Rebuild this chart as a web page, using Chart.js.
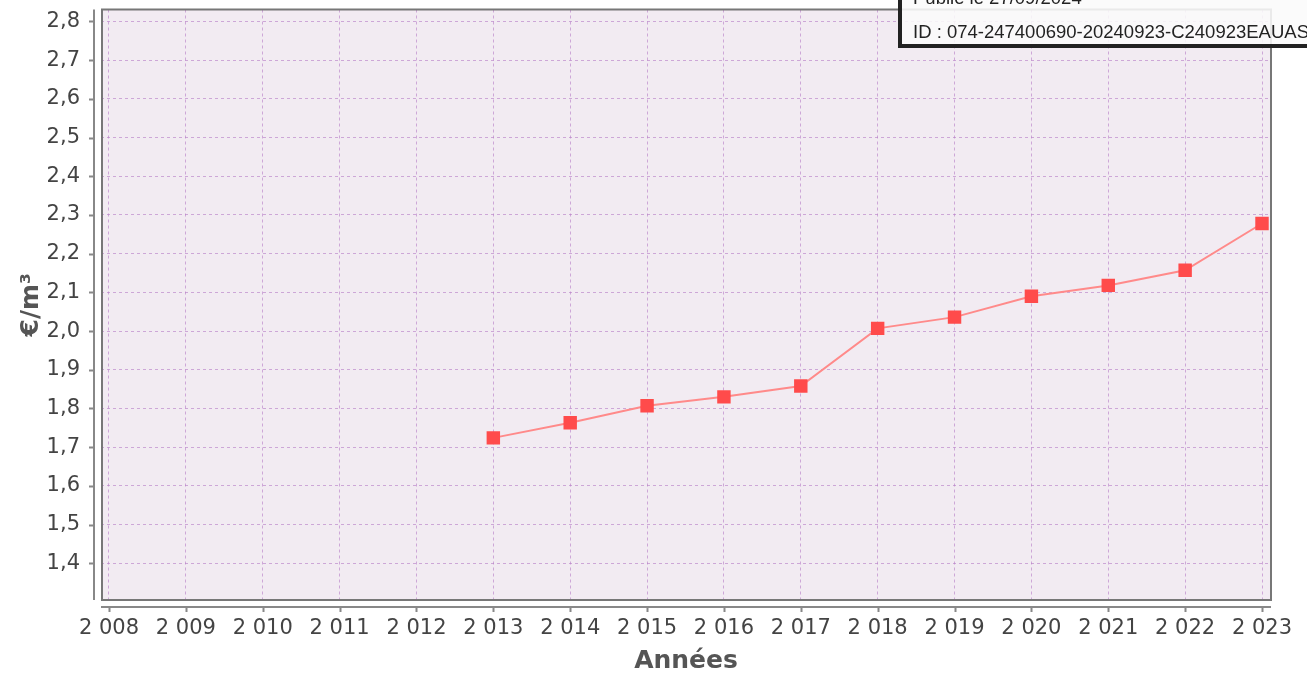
<!DOCTYPE html>
<html>
<head>
<meta charset="utf-8">
<script src="https://cdn.jsdelivr.net/npm/chart.js@4"></script>
<style>
  html, body { margin: 0; padding: 0; background: #fff; }
  #wrap { width: 1307px; height: 676px; }
</style>
</head>
<body>
<div id="wrap"><canvas id="myChart" width="1307" height="676"></canvas></div>
<script>
const years = [2013, 2014, 2015, 2016, 2017, 2018, 2019, 2020, 2021, 2022, 2023];
const prices = [1.724, 1.763, 1.807, 1.830, 1.858, 2.007, 2.036, 2.090, 2.118, 2.157, 2.278];
const stampLines = ["Publié le 27/09/2024", "ID : 074-247400690-20240923-C240923EAUAS"];

const plotBg = "#f2ebf2";
const gridColor = "rgba(185, 130, 200, 0.65)";
const tickFont = { family: "DejaVu Sans", size: 21 };
const titleFont = { family: "DejaVu Sans", size: 25, weight: "bold" };

const fmtYear = (v) => String(v).replace(/^(\d)(\d{3})$/, "$1 $2");

// keep the plot area fixed, no extra room for label overhang
const fixBox = (size) => (s) => {
  if (s.isHorizontal()) s.height = size; else s.width = size;
  s.paddingTop = 0;
  s.paddingBottom = 0;
  s.paddingLeft = 0;
  s.paddingRight = 0;
};

const plotFrame = {
  id: "plotFrame",
  beforeDraw(chart) {
    const { ctx, chartArea: a } = chart;
    ctx.save();
    ctx.fillStyle = plotBg;
    ctx.fillRect(a.left, a.top, a.right - a.left, a.bottom - a.top);
    ctx.restore();
  },
  afterDatasetsDraw(chart) {
    const { ctx, chartArea: a, scales } = chart;
    ctx.save();
    // plot border
    ctx.strokeStyle = "#777";
    ctx.lineWidth = 2;
    ctx.strokeRect(a.left + 1, a.top, a.right - a.left - 1, a.bottom - a.top);
    // detached axes
    ctx.strokeStyle = "#888";
    ctx.lineWidth = 2;
    const ax = a.left - 7;
    ctx.beginPath();
    ctx.moveTo(ax, a.top);
    ctx.lineTo(ax, a.bottom);
    scales.y.ticks.forEach((t) => {
      const py = Math.round(scales.y.getPixelForValue(t.value)) + 0.5;
      ctx.moveTo(ax - 5, py);
      ctx.lineTo(ax, py);
    });
    const ay = a.bottom + 7;
    ctx.moveTo(a.left, ay);
    ctx.lineTo(a.right, ay);
    scales.x.ticks.forEach((t) => {
      const px = Math.round(scales.x.getPixelForValue(t.value)) + 0.5;
      ctx.moveTo(px, ay);
      ctx.lineTo(px, ay + 5);
    });
    ctx.stroke();
    ctx.restore();
  },
  afterDraw(chart) {
    const { ctx } = chart;
    ctx.save();
    ctx.fillStyle = "rgba(250, 250, 250, 0.88)";
    ctx.fillRect(900, -20, 440, 66);
    ctx.strokeStyle = "#222";
    ctx.lineWidth = 4;
    ctx.strokeRect(900, -20, 440, 66);
    ctx.fillStyle = "#222";
    ctx.font = "18.5px 'Liberation Sans', Arial, sans-serif";
    ctx.textBaseline = "alphabetic";
    ctx.fillText(stampLines[0], 913, 4);
    ctx.fillText(stampLines[1], 913, 38);
    ctx.restore();
  },
};

new Chart("myChart", {
  type: "line",
  data: {
    datasets: [
      {
        data: years.map((y, i) => ({ x: y, y: prices[i] })),
        borderColor: "#ff8a8a",
        borderWidth: 2,
        pointStyle: "rect",
        pointRadius: 9.5,
        pointHoverRadius: 9.5,
        pointBackgroundColor: "#ff4b4b",
        pointBorderColor: "#ff4b4b",
        pointBorderWidth: 0,
        tension: 0,
      },
    ],
  },
  options: {
    responsive: false,
    animation: false,
    layout: { padding: { left: 0, right: 36, top: 7, bottom: 0 } },
    plugins: {
      legend: { display: false },
      tooltip: { enabled: false },
    },
    scales: {
      x: {
        type: "linear",
        min: 2007.896,
        max: 2023.117,
        afterFit: fixBox(76),
        ticks: {
          stepSize: 1,
          includeBounds: false,
          autoSkip: false,
          maxRotation: 0,
          padding: 16,
          color: "#444",
          font: tickFont,
          callback: (v) => fmtYear(v),
        },
        grid: { color: gridColor, lineWidth: 1, drawTicks: false },
        border: { display: false, dash: [3, 3] },
        title: {
          display: true,
          text: "Années",
          color: "#555",
          font: titleFont,
          padding: { top: 2, bottom: 0 },
        },
      },
      y: {
        min: 1.305,
        max: 2.831,
        afterFit: fixBox(101),
        ticks: {
          stepSize: 0.1,
          includeBounds: false,
          padding: 21,
          color: "#444",
          font: tickFont,
          callback: (v) => v.toFixed(1).replace(".", ","),
        },
        grid: { color: gridColor, lineWidth: 1, drawTicks: false },
        border: { display: false, dash: [3, 3] },
        title: {
          display: true,
          text: "€/m³",
          color: "#555",
          font: titleFont,
          padding: { top: 16, bottom: 0 },
        },
      },
    },
  },
  plugins: [plotFrame],
});
</script>
</body>
</html>
